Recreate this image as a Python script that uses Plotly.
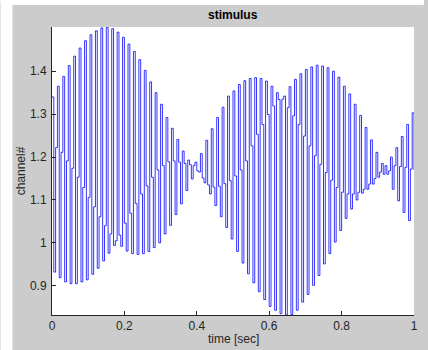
import plotly.graph_objects as go

# sample interval of the stimulus (seconds)
dt = 0.005

# stimulus samples (channel value at each 5 ms step, k = 0..200)
stimulus = [
    1.340, 0.932, 1.222, 1.365, 0.919, 1.211, 1.388, 0.909, 1.191, 1.413,
    0.905, 1.174, 1.435, 0.905, 1.153, 1.454, 0.909, 1.129, 1.471, 0.914,
    1.106, 1.485, 0.927, 1.084, 1.494, 0.941, 1.061, 1.501, 0.958, 1.040,
    1.502, 0.976, 1.021, 1.499, 0.994, 1.005, 1.491, 1.018, 0.992, 1.479,
    1.046, 0.981, 1.463, 1.069, 0.975, 1.446, 1.092, 0.973, 1.427, 1.114,
    0.975, 1.402, 1.133, 0.980, 1.375, 1.153, 0.989, 1.350, 1.170, 1.000,
    1.323, 1.180, 1.021, 1.292, 1.189, 1.041, 1.267, 1.191, 1.066, 1.241,
    1.188, 1.091, 1.214, 1.185, 1.122, 1.193, 1.182, 1.149, 1.180, 1.188,
    1.168, 1.165, 1.208, 1.151, 1.140, 1.239, 1.135, 1.114, 1.266, 1.130,
    1.087, 1.292, 1.132, 1.061, 1.316, 1.138, 1.036, 1.342, 1.145, 1.009,
    1.354, 1.156, 0.980, 1.369, 1.170, 0.953, 1.378, 1.191, 0.928, 1.383,
    1.226, 0.907, 1.385, 1.253, 0.886, 1.383, 1.276, 0.868, 1.377, 1.299,
    0.852, 1.365, 1.319, 0.843, 1.350, 1.334, 0.835, 1.335, 1.342, 0.832,
    1.315, 1.364, 0.833, 1.296, 1.381, 0.843, 1.276, 1.394, 0.862, 1.249,
    1.404, 0.880, 1.226, 1.410, 0.901, 1.203, 1.414, 0.924, 1.183, 1.412,
    0.951, 1.164, 1.408, 0.975, 1.146, 1.400, 1.002, 1.129, 1.386, 1.029,
    1.118, 1.365, 1.057, 1.114, 1.347, 1.079, 1.114, 1.323, 1.100, 1.118,
    1.297, 1.116, 1.125, 1.269, 1.125, 1.137, 1.240, 1.137, 1.150, 1.211,
    1.153, 1.165, 1.185, 1.160, 1.180, 1.160, 1.168, 1.200, 1.125, 1.180,
    1.222, 1.098, 1.178, 1.248, 1.071, 1.176, 1.276, 1.052, 1.172, 1.303,
    1.170,
]
time = [round(k * dt, 4) for k in range(len(stimulus))]

x_ticks = [0, 0.2, 0.4, 0.6, 0.8, 1]
x_tick_text = ["0", "0.2", "0.4", "0.6", "0.8", "1"]
y_ticks = [0.9, 1.0, 1.1, 1.2, 1.3, 1.4]
y_tick_text = ["0.9", "1", "1.1", "1.2", "1.3", "1.4"]

W, H = 428, 350
ML, MR, MT, MB = 52, 10, 27, 35
PW, PH = W - ML - MR, H - MT - MB

def px_x(px):
    return (px - ML) / PW

def px_y(py):
    return (H - MB - py) / PH

fig = go.Figure()
fig.add_trace(go.Scatter(
    x=time, y=stimulus, mode="lines", line_shape="hv",
    line=dict(color="#0000ff", width=0.8), showlegend=False,
))

axis_font = dict(family="Liberation Sans, Arial, sans-serif", size=12, color="#262626")

fig.update_layout(
    width=W, height=H,
    margin=dict(l=ML, r=MR, t=MT, b=MB, pad=0),
    paper_bgcolor="#cccccc",
    plot_bgcolor="#ffffff",
    font=axis_font,
    xaxis=dict(
        range=[0, 1], tickvals=x_ticks, ticktext=x_tick_text,
        ticks="inside", ticklen=4, tickcolor="#262626",
        showline=True, linecolor="#262626", linewidth=1,
        showgrid=False, zeroline=False, tickfont=axis_font,
    ),
    yaxis=dict(
        range=[0.832, 1.503], tickvals=y_ticks, ticktext=y_tick_text,
        ticks="inside", ticklen=4, tickcolor="#262626",
        showline=True, linecolor="#262626", linewidth=1,
        showgrid=False, zeroline=False, tickfont=axis_font,
        ticklabelstandoff=2,
    ),
    shapes=[
        dict(type="rect", xref="paper", yref="paper",
             x0=px_x(0), x1=px_x(12), y0=px_y(H), y1=px_y(0),
             fillcolor="#ffffff", line=dict(width=0), layer="below"),
        dict(type="rect", xref="paper", yref="paper",
             x0=px_x(0), x1=px_x(W), y0=px_y(5), y1=px_y(0),
             fillcolor="#ffffff", line=dict(width=0), layer="below"),
    ],
    annotations=[
        dict(text="<b>stimulus</b>", xref="paper", yref="paper",
             x=0.5, y=px_y(15), xanchor="center", yanchor="middle",
             showarrow=False,
             font=dict(family="Liberation Sans, Arial, sans-serif", size=12, color="#000000")),
        dict(text="time [sec]", xref="paper", yref="paper",
             x=0.5, y=px_y(339), xanchor="center", yanchor="middle",
             showarrow=False, font=axis_font),
        dict(text="channel#", xref="paper", yref="paper",
             x=px_x(21), y=px_y(171), xanchor="center", yanchor="middle",
             textangle=-90, showarrow=False, font=axis_font),
    ],
)

fig.write_html("out.html")
